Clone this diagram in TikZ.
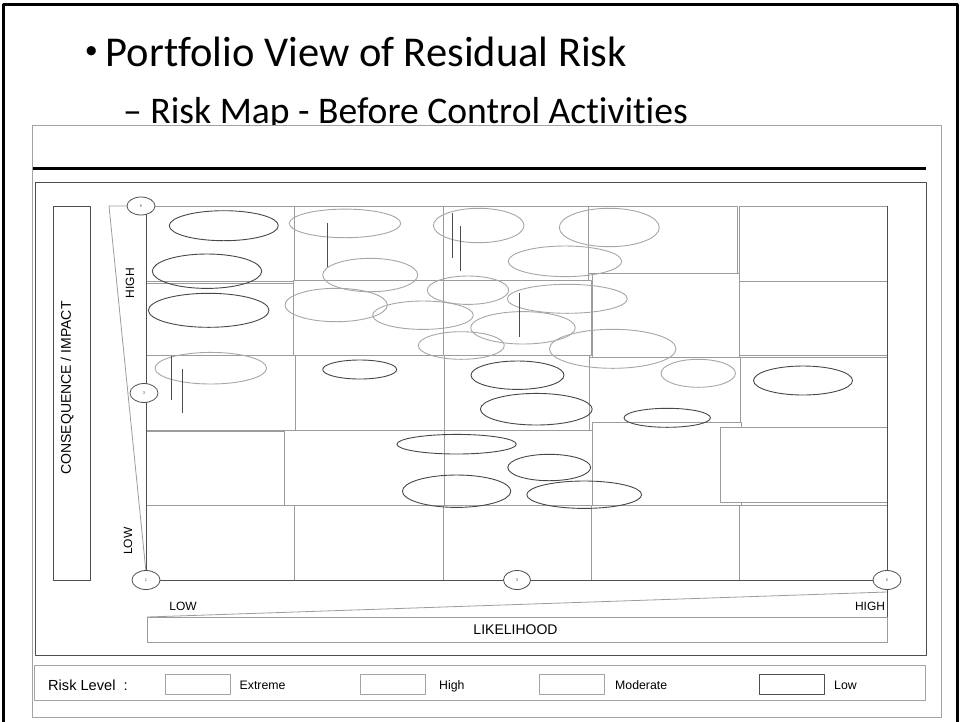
\documentclass[tikz,border=0pt]{standalone}
\usepackage{fontspec}
\setmainfont{Carlito}[Ligatures=NoCommon]
\newfontfamily\arial{Liberation Sans}
\definecolor{gridgray}{HTML}{9C9C9C}
\definecolor{axisgray}{HTML}{4E4E4E}
\definecolor{ringdark}{HTML}{474747}
\definecolor{ringlight}{HTML}{A6A6A6}
\definecolor{boxgray}{HTML}{A3A3A3}
\begin{document}
\begin{tikzpicture}[x=1pt,y=-1pt,line join=round,
  cell/.style={draw=gridgray,fill=white,line width=0.8pt},
  darkring/.style={draw=ringdark,line width=0.9pt},
  lightring/.style={draw=ringlight,line width=0.9pt},
  stem/.style={draw=axisgray,line width=1pt},
  scaledot/.style={draw=axisgray,fill=white,line width=0.8pt},
  dotnum/.style={font=\arial\fontsize{4}{4}\selectfont,inner sep=0,text=axisgray},
  axislabel/.style={font=\arial\fontsize{12}{14}\selectfont,inner sep=0},
  legendbox/.style={draw=boxgray,line width=0.8pt},
  legendtext/.style={font=\arial\fontsize{12.3}{14}\selectfont,anchor=base west,inner sep=0}]
\useasboundingbox (0,0) rectangle (960,721);
\clip (0,0) rectangle (960,721);

% slide frame
\draw[line width=3pt] (3.5,4.5) rectangle (957.5,740);

% slide title and sub-bullet
\node[anchor=center,inner sep=0,font=\fontsize{26}{30}\selectfont] (bullet) at (91.3,52.5) {•};
\node[anchor=base west,inner sep=0,font=\fontsize{42.5}{50}\selectfont] (title) at (105.5,66) {Portfolio View of Residual Risk};
\node[anchor=base west,inner sep=0,font=\fontsize{37.6}{44}\selectfont] (subtitle) at (123,123) {– Risk Map - Before Control Activities};

% pasted chart panel
\draw[draw=boxgray,fill=white,line width=1pt] (32.5,125.5) rectangle (941,717);
\draw[line width=3pt] (33,168) -- (926,168);
\draw[draw=axisgray,line width=1pt] (35,182) rectangle (926,655);

% side label box
\draw[draw=axisgray,line width=0.8pt] (53.5,206) rectangle (90.5,580);
\node[rotate=90,font=\arial\fontsize{14}{16}\selectfont,inner sep=0] (impact) at (67,388) {CONSEQUENCE / IMPACT};

% grid of cells, row by row
\draw[cell] (146,206) rectangle (294,281);
\draw[cell] (294,206) rectangle (443,280);
\draw[cell] (443,206) rectangle (588,280);
\draw[cell] (588,206) rectangle (737,273);
\draw[cell] (739,206) rectangle (887,281);

\draw[cell] (146,283) rectangle (293,355);
\draw[cell] (293,280) rectangle (443,355);
\draw[cell] (443,280) rectangle (591,355);
\draw[cell] (592,273) rectangle (739,357);
\draw[cell] (739,281) rectangle (887,355);

\draw[cell] (146,355) rectangle (295,430);
\draw[cell] (295,355) rectangle (444,430);
\draw[cell] (444,355) rectangle (589,430);
\draw[cell] (589,357) rectangle (740,430);
\draw[cell] (740,357) rectangle (887,430);

\draw[cell] (146,431) rectangle (285,505);
\draw[cell] (284,430) rectangle (444,505);
\draw[cell] (444,430) rectangle (592,505);
\draw[cell] (592,422) rectangle (741,505);
\draw[cell] (720,427) rectangle (887,502);

\draw[cell] (146,505) rectangle (294,580);
\draw[cell] (294,505) rectangle (443,580);
\draw[cell] (443,505) rectangle (591,580);
\draw[cell] (591,505) rectangle (739,580);
\draw[cell] (739,505) rectangle (887,580);

% axes
\draw[draw=axisgray,line width=0.9pt] (146,206) -- (146,580) -- (887,580);
\draw[draw=gridgray,line width=0.8pt] (146,206) -- (109,206) -- (146,572);
\draw[draw=axisgray,line width=0.8pt] (887,206) -- (887,642);
\draw[draw=gridgray,line width=0.8pt] (147,617) -- (887,592);
\draw[draw=gridgray,line width=0.8pt] (147,617) rectangle (887,642);

% scale markers
\draw[scaledot] (141,206) ellipse [x radius=14pt,y radius=9pt];
\node[dotnum] (d5v) at (141,206) {5};
\draw[scaledot] (144,393) ellipse [x radius=14pt,y radius=9.5pt];
\node[dotnum] (d3v) at (144,393) {3};
\draw[scaledot] (146,580) ellipse [x radius=14pt,y radius=9.5pt];
\node[dotnum] (d1) at (146,580) {1};
\draw[scaledot] (517,580) ellipse [x radius=13.5pt,y radius=9.5pt];
\node[dotnum] (d3h) at (517,580) {3};
\draw[scaledot] (887,580) ellipse [x radius=14pt,y radius=9.5pt];
\node[dotnum] (d5h) at (887,580) {5};

% axis words
\node[axislabel,rotate=90] (vhigh) at (130,283) {HIGH};
\node[axislabel,rotate=90] (vlow) at (128,541) {LOW};
\node[axislabel] (hlow) at (183,606) {LOW};
\node[axislabel] (hhigh) at (870,606) {HIGH};
\node[font=\arial\fontsize{14}{16}\selectfont,inner sep=0] (likelihood) at (515.5,630) {LIKELIHOOD};

% risk ellipses
\draw[darkring] (223.8,225.7) ellipse [x radius=54.5pt,y radius=15pt];
\draw[darkring] (207,271.2) ellipse [x radius=54.7pt,y radius=17.2pt];
\draw[darkring] (208.7,310.3) ellipse [x radius=60.3pt,y radius=17pt];
\draw[lightring] (210.8,368.2) ellipse [x radius=55.8pt,y radius=15.8pt];

\draw[lightring] (345,223.4) ellipse [x radius=55.7pt,y radius=14.3pt];
\draw[lightring] (478.7,225.5) ellipse [x radius=45.3pt,y radius=17.2pt];
\draw[lightring] (609.3,227.5) ellipse [x radius=50pt,y radius=19.2pt];
\draw[lightring] (565,261.3) ellipse [x radius=56.7pt,y radius=15.3pt];
\draw[lightring] (370.2,275) ellipse [x radius=47.5pt,y radius=16.7pt];
\draw[lightring] (468,290.2) ellipse [x radius=40.7pt,y radius=14.2pt];
\draw[lightring] (567.3,298.8) ellipse [x radius=60pt,y radius=14.5pt];
\draw[lightring] (336.2,305) ellipse [x radius=51.2pt,y radius=16.7pt];
\draw[lightring] (423,315.2) ellipse [x radius=50.3pt,y radius=14.2pt];
\draw[lightring] (523,327.8) ellipse [x radius=52.3pt,y radius=16.2pt];
\draw[lightring] (461.3,345.5) ellipse [x radius=43pt,y radius=13.8pt];
\draw[lightring] (612.7,348.8) ellipse [x radius=63.3pt,y radius=19.5pt];

\draw[darkring] (359.7,369.5) ellipse [x radius=37pt,y radius=9.5pt];
\draw[darkring] (517.5,375.2) ellipse [x radius=46.5pt,y radius=14.2pt];
\draw[lightring] (698.2,373.3) ellipse [x radius=37.2pt,y radius=14pt];
\draw[darkring] (803,380.5) ellipse [x radius=49.5pt,y radius=14.5pt];
\draw[darkring] (536.3,409.2) ellipse [x radius=55.9pt,y radius=15.8pt];
\draw[darkring] (667.2,417.8) ellipse [x radius=43.2pt,y radius=9.5pt];

\draw[darkring] (456.6,444.2) ellipse [x radius=59.7pt,y radius=9.8pt];
\draw[darkring] (549.2,467.5) ellipse [x radius=41.4pt,y radius=13.2pt];
\draw[darkring] (456.6,491.2) ellipse [x radius=54.2pt,y radius=16.2pt];
\draw[darkring] (584.2,494.7) ellipse [x radius=57.4pt,y radius=13.7pt];

% trend stems
\draw[stem] (171.7,356) -- (171.7,400);
\draw[stem] (182.3,369) -- (182.3,413.3);
\draw[stem] (327.3,223.3) -- (327.3,267.3);
\draw[stem] (452.7,213.3) -- (452.7,257.7);
\draw[stem] (460.3,226) -- (460.3,270.7);
\draw[stem] (519.3,292.7) -- (519.3,337.3);

% legend
\draw[legendbox] (34,665) rectangle (925,700);
\node[font=\arial\fontsize{14.6}{16}\selectfont,anchor=base west,inner sep=0] (risklevel) at (48,690) {Risk Level};
\node[font=\arial\fontsize{14.6}{16}\selectfont,anchor=base west,inner sep=0] (colon) at (123.5,690) {:};
\draw[legendbox] (165,674) rectangle (230,694);
\node[legendtext] (extreme) at (239.5,689.5) {Extreme};
\draw[legendbox] (360,674) rectangle (425.5,694);
\node[legendtext] (high) at (439,689.5) {High};
\draw[legendbox] (539,674) rectangle (604.5,694);
\node[legendtext] (moderate) at (615,689.5) {Moderate};
\draw[draw=axisgray,line width=0.8pt] (759.5,674) rectangle (824,694);
\node[legendtext] (low) at (834,689.5) {Low};
\end{tikzpicture}
\end{document}
